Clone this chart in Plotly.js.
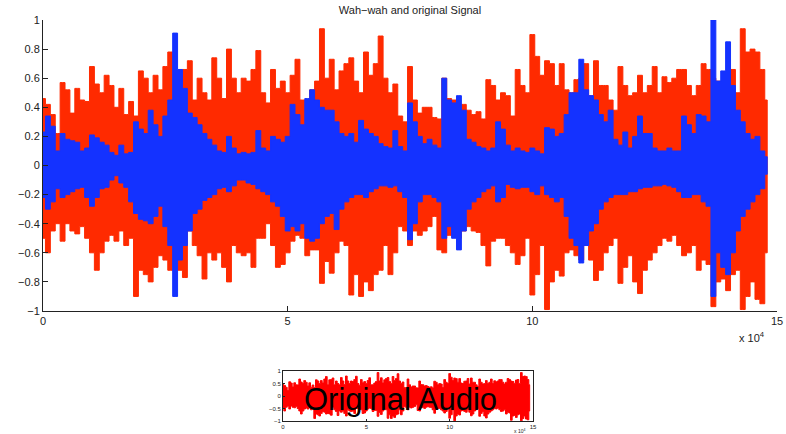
<!DOCTYPE html>
<html>
<head>
<meta charset="utf-8">
<script src="https://cdn.plot.ly/plotly-3.0.1.min.js"></script>
<style>html,body{margin:0;padding:0;background:#fff;}#chart{width:786px;height:434px;}</style>
</head>
<body>
<div id="chart"></div>
<script>
// sample spacing of the envelope readings (samples)
const sampleStep = 1000;

// Original signal (red) envelope
const originalUpper = [
0.46,0.42,0.35,0.22,0.57,0.52,0.36,0.53,0.45,0.44,
0.68,0.56,0.5,0.62,0.55,0.4,0.53,0.35,0.44,0.34,
0.65,0.6,0.5,0.62,0.52,0.68,0.78,0.45,0.65,0.66,
0.72,0.45,0.6,0.5,0.45,0.74,0.6,0.46,0.8,0.6,
0.5,0.6,0.58,0.66,0.79,0.5,0.43,0.66,0.53,0.58,
0.5,0.62,0.73,0.45,0.45,0.52,0.58,0.94,0.6,0.73,
0.52,0.65,0.7,0.74,0.58,0.5,0.78,0.62,0.7,0.89,
0.6,0.5,0.56,0.34,0.3,0.68,0.45,0.36,0.4,0.4,
0.33,0.32,0.6,0.46,0.45,0.4,0.42,0.38,0.35,0.37,
0.32,0.59,0.55,0.45,0.5,0.48,0.34,0.66,0.55,0.5,
0.9,0.75,0.62,0.72,0.7,0.55,0.7,0.52,0.5,0.59,
0.6,0.7,0.48,0.72,0.55,0.55,0.45,0.38,0.68,0.55,
0.48,0.5,0.62,0.5,0.55,0.68,0.5,0.61,0.57,0.6,
0.66,0.66,0.55,0.48,0.55,0.7,0.66,0.6,0.58,0.5,
0.64,0.66,0.5,0.94,0.78,0.8,0.78,0.66,0.45];
const originalLower = [
-0.5,-0.6,-0.45,-0.4,-0.52,-0.4,-0.45,-0.47,-0.42,-0.5,
-0.6,-0.72,-0.6,-0.52,-0.48,-0.52,-0.45,-0.55,-0.5,-0.9,
-0.72,-0.75,-0.8,-0.7,-0.62,-0.65,-0.72,-0.7,-0.72,-0.77,
-0.45,-0.55,-0.62,-0.78,-0.6,-0.65,-0.6,-0.7,-0.8,-0.55,
-0.6,-0.62,-0.6,-0.7,-0.5,-0.5,-0.4,-0.55,-0.7,-0.68,
-0.6,-0.52,-0.48,-0.5,-0.62,-0.58,-0.58,-0.81,-0.66,-0.74,
-0.6,-0.52,-0.55,-0.89,-0.75,-0.9,-0.8,-0.86,-0.75,-0.72,
-0.55,-0.75,-0.6,-0.42,-0.45,-0.55,-0.45,-0.48,-0.45,-0.42,
-0.35,-0.58,-0.6,-0.48,-0.45,-0.5,-0.45,-0.42,-0.45,-0.46,
-0.55,-0.69,-0.52,-0.5,-0.5,-0.55,-0.6,-0.68,-0.62,-0.5,
-0.89,-0.75,-0.55,-0.99,-0.8,-0.72,-0.76,-0.6,-0.58,-0.62,
-0.65,-0.55,-0.65,-0.79,-0.72,-0.6,-0.55,-0.5,-0.81,-0.7,
-0.62,-0.8,-0.88,-0.72,-0.65,-0.6,-0.55,-0.5,-0.52,-0.48,
-0.55,-0.62,-0.6,-0.55,-0.72,-0.65,-0.68,-0.97,-0.8,-0.78,
-0.86,-0.75,-0.72,-0.99,-0.9,-0.8,-0.92,-0.95,-0.6];

// Wah-wah signal (blue) envelope
const wahUpper = [
0.23,0.34,0.27,0.1,0.22,0.18,0.17,0.16,0.1,0.12,
0.21,0.19,0.16,0.14,0.09,0.07,0.14,0.08,0.09,0.3,
0.25,0.22,0.38,0.28,0.2,0.34,0.45,0.91,0.66,0.53,
0.36,0.33,0.28,0.22,0.18,0.14,0.1,0.09,0.2,0.12,
0.08,0.09,0.08,0.09,0.24,0.12,0.1,0.2,0.18,0.16,
0.2,0.42,0.35,0.28,0.46,0.52,0.45,0.4,0.38,0.38,
0.3,0.22,0.2,0.22,0.16,0.31,0.25,0.22,0.2,0.15,
0.13,0.12,0.24,0.13,0.1,0.43,0.3,0.2,0.15,0.18,
0.14,0.12,0.6,0.45,0.43,0.48,0.38,0.18,0.16,0.13,
0.12,0.1,0.12,0.3,0.25,0.14,0.1,0.12,0.1,0.09,
0.12,0.1,0.08,0.26,0.25,0.2,0.22,0.35,0.5,0.5,
0.73,0.52,0.48,0.45,0.35,0.3,0.38,0.18,0.14,0.23,
0.12,0.2,0.34,0.22,0.22,0.12,0.1,0.1,0.12,0.1,
0.1,0.34,0.28,0.22,0.35,0.34,0.3,1.0,0.58,0.65,
0.85,0.55,0.38,0.3,0.22,0.18,0.2,0.1,0.06];
const wahLower = [
-0.22,-0.3,-0.25,-0.16,-0.22,-0.2,-0.18,-0.16,-0.15,-0.22,
-0.28,-0.22,-0.16,-0.15,-0.1,-0.07,-0.12,-0.15,-0.25,-0.33,
-0.37,-0.38,-0.4,-0.35,-0.28,-0.42,-0.55,-0.9,-0.65,-0.55,
-0.45,-0.33,-0.3,-0.24,-0.22,-0.2,-0.16,-0.15,-0.18,-0.14,
-0.1,-0.1,-0.12,-0.13,-0.16,-0.18,-0.2,-0.25,-0.28,-0.35,
-0.45,-0.42,-0.45,-0.4,-0.5,-0.52,-0.5,-0.4,-0.35,-0.33,
-0.44,-0.3,-0.25,-0.22,-0.2,-0.2,-0.22,-0.18,-0.16,-0.14,
-0.14,-0.15,-0.14,-0.18,-0.22,-0.51,-0.4,-0.25,-0.2,-0.2,
-0.22,-0.25,-0.5,-0.42,-0.5,-0.58,-0.45,-0.3,-0.25,-0.22,
-0.18,-0.16,-0.14,-0.25,-0.22,-0.13,-0.15,-0.16,-0.15,-0.15,
-0.18,-0.2,-0.14,-0.2,-0.22,-0.25,-0.22,-0.35,-0.5,-0.55,
-0.67,-0.55,-0.45,-0.4,-0.3,-0.25,-0.22,-0.2,-0.2,-0.2,
-0.18,-0.18,-0.16,-0.15,-0.15,-0.14,-0.14,-0.13,-0.14,-0.15,
-0.18,-0.22,-0.22,-0.2,-0.2,-0.25,-0.28,-0.9,-0.6,-0.7,
-0.75,-0.6,-0.45,-0.35,-0.3,-0.25,-0.2,-0.16,-0.06];

// tick labels
const mainXTickVals = [0, 50000, 100000, 150000];
const mainXTickText = ['0', '5', '10', '15'];
const insetYTickVals = [-1, -0.5, 0, 0.5, 1];

const sampleX = originalUpper.map((_, i) => i * sampleStep);

function band(upper, lower, color, xa, ya, width) {
  const x = sampleX.concat(sampleX.slice().reverse());
  const y = upper.concat(lower.slice().reverse());
  return {
    type: 'scatter', mode: 'lines', x: x, y: y,
    fill: 'toself', fillcolor: color,
    line: {color: color, width: width, shape: 'hvh'},
    xaxis: xa, yaxis: ya, hoverinfo: 'skip', showlegend: false
  };
}

const RED = '#ff2a00', BLUE = '#1432ff';
const data = [
  band(originalUpper, originalLower, RED, 'x', 'y', 1),
  band(wahUpper, wahLower, BLUE, 'x', 'y', 1),
  band(originalUpper, originalLower, '#ff0000', 'x2', 'y2', 1)
];

const W = 786, H = 434;
const px = v => v / W, py = v => 1 - v / H;
const tickFont = {family: 'Liberation Sans, Arial, sans-serif', size: 11, color: '#222'};
const tinyFont = {family: 'Liberation Sans, Arial, sans-serif', size: 6, color: '#222'};

const layout = {
  width: W, height: H,
  margin: {l: 0, r: 0, t: 0, b: 0},
  paper_bgcolor: '#fff', plot_bgcolor: 'rgba(0,0,0,0)',
  showlegend: false,
  title: {text: 'Wah\u2212wah and original Signal', x: px(410), xanchor: 'center', y: py(10), yanchor: 'middle',
          font: {family: 'Liberation Sans, Arial, sans-serif', size: 11, color: '#222'}},
  xaxis: {domain: [px(43), px(777)], range: [0, 150000], tickvals: mainXTickVals, ticktext: mainXTickText,
          ticks: 'inside', ticklen: 5, tickcolor: '#222', showline: true, linecolor: '#222', linewidth: 1,
          showgrid: false, zeroline: false, tickfont: tickFont, anchor: 'y'},
  yaxis: {domain: [py(311), py(20)], range: [-1, 1], dtick: 0.2, tick0: 0,
          ticks: 'inside', ticklen: 5, tickcolor: '#222', showline: true, linecolor: '#222', linewidth: 1,
          showgrid: false, zeroline: false, tickfont: tickFont, anchor: 'x'},
  xaxis2: {domain: [px(283), px(533)], range: [0, 150000], tickvals: mainXTickVals, ticktext: mainXTickText,
          ticks: 'inside', ticklen: 2, tickcolor: '#222', showline: true, mirror: true, linecolor: '#222', linewidth: 1,
          showgrid: false, zeroline: false, tickfont: tinyFont, anchor: 'y2', ticklabelstandoff: 0},
  yaxis2: {domain: [py(421), py(371)], range: [-1, 1], tickvals: insetYTickVals,
          ticks: 'inside', ticklen: 2, tickcolor: '#222', showline: true, mirror: true, linecolor: '#222', linewidth: 1,
          showgrid: false, zeroline: false, tickfont: tinyFont, anchor: 'x2'},
  annotations: [
    {text: 'x 10<sup>4</sup>', xref: 'paper', yref: 'paper', x: px(737), y: py(337), xanchor: 'left', yanchor: 'middle',
     showarrow: false, font: tickFont},
    {text: 'x 10<sup>4</sup>', xref: 'paper', yref: 'paper', x: px(512), y: py(431), xanchor: 'left', yanchor: 'middle',
     showarrow: false, font: {family: 'Liberation Sans, Arial, sans-serif', size: 5, color: '#222'}},
    {text: 'Original Audio', xref: 'paper', yref: 'paper', x: px(400), y: py(399), xanchor: 'center', yanchor: 'middle',
     showarrow: false, font: {family: 'Liberation Sans, Arial, sans-serif', size: 31, color: '#000'}}
  ]
};

Plotly.newPlot('chart', data, layout, {staticPlot: true, displayModeBar: false});
</script>
</body>
</html>
